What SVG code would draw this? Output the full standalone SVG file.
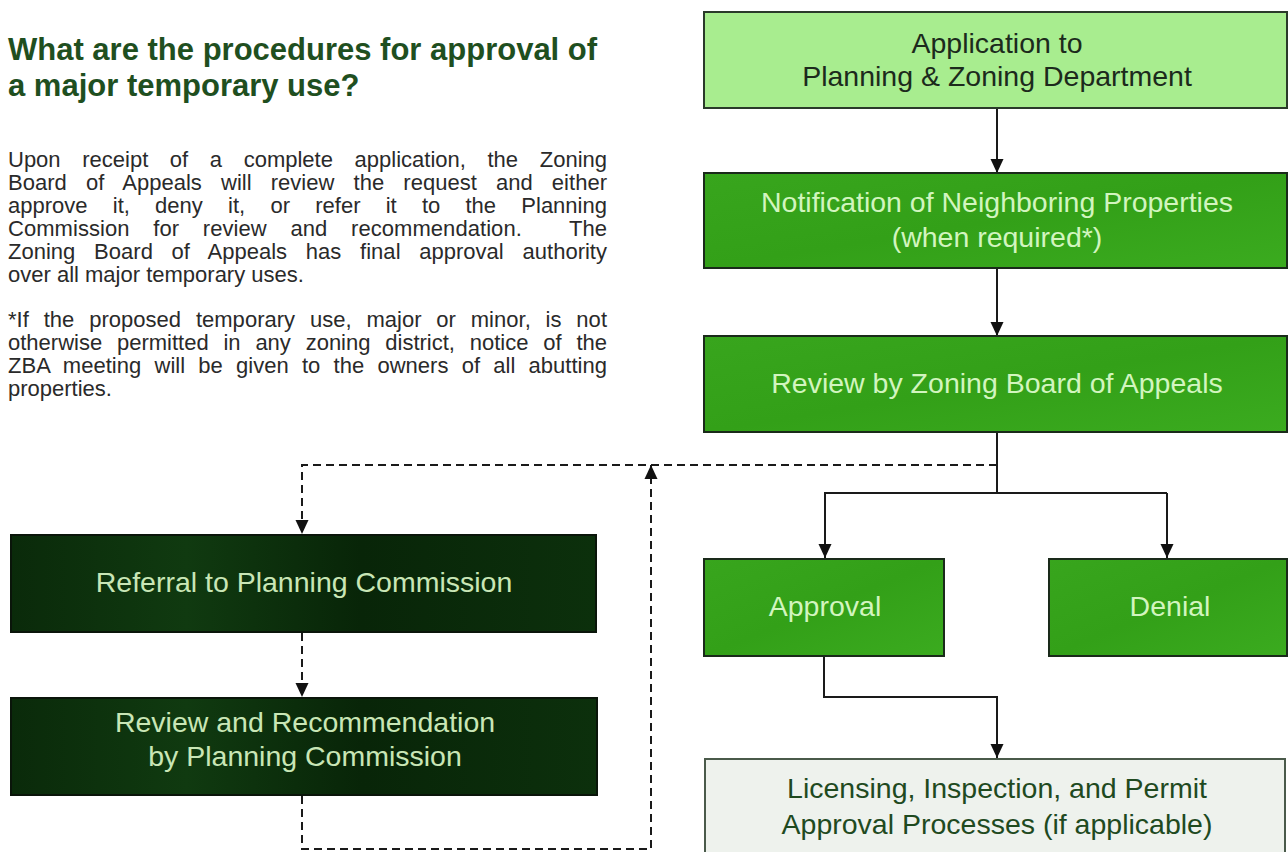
<svg xmlns="http://www.w3.org/2000/svg" width="1288" height="852" viewBox="0 0 1288 852">
<defs>
<style>
.title{font-family:"Liberation Sans",Arial,sans-serif;font-size:31px;font-weight:bold;fill:#1f4f1f;}
.body{font-family:"Liberation Sans",Arial,sans-serif;font-size:22px;fill:#2a2a2a;}
.bx{font-family:"Liberation Sans",Arial,sans-serif;font-size:28.5px;text-anchor:middle;}
.dk{fill:#1c2a1c;}
.lt{fill:#d2f5bf;}
.pl{fill:#c9e6b6;}
.lg{fill:#1f4a1f;}
.edge{fill:none;stroke:#1a1a1a;stroke-width:2;}
.dash{fill:none;stroke:#1a1a1a;stroke-width:2;stroke-dasharray:8 5;}
.boxA{fill:#a8ed8f;stroke:#2a3a2a;stroke-width:2;}
.boxG{fill:url(#gG);stroke:#1a2a1a;stroke-width:2;}
.boxD{fill:url(#gD);stroke:#0a150a;stroke-width:2;}
.boxL{fill:#eef2ed;stroke:#4a5a4a;stroke-width:2;}
</style>
<linearGradient id="gG" x1="0" y1="0" x2="1" y2="1">
<stop offset="0" stop-color="#38a51d"/><stop offset="0.5" stop-color="#33a018"/><stop offset="1" stop-color="#3bab1f"/>
</linearGradient>
<linearGradient id="gD" x1="0" y1="0" x2="1" y2="0">
<stop offset="0" stop-color="#0a2a0a"/><stop offset="0.3" stop-color="#103a10"/><stop offset="0.6" stop-color="#082508"/><stop offset="1" stop-color="#0c300c"/>
</linearGradient>
<marker id="ah" viewBox="0 0 14 14" refX="14" refY="7" markerWidth="14" markerHeight="14" markerUnits="userSpaceOnUse" orient="auto">
<path d="M0,0.5 L14,7 L0,13.5 Z" fill="#111"/>
</marker>
</defs>
<rect width="1288" height="852" fill="#ffffff"/>

<g id="intro">
<text class="title" x="8" y="60">What are the procedures for approval of</text>
<text class="title" x="8" y="96">a major temporary use?</text>
<text class="body" x="8" y="167" word-spacing="15.5" textLength="599" lengthAdjust="spacing">Upon receipt of a complete application, the Zoning</text>
<text class="body" x="8" y="190" word-spacing="13" textLength="599" lengthAdjust="spacing">Board of Appeals will review the request and either</text>
<text class="body" x="8" y="213" word-spacing="19.1" textLength="599" lengthAdjust="spacing">approve it, deny it, or refer it to the Planning</text>
<text class="body" x="8" y="236" word-spacing="17.6" textLength="599" lengthAdjust="spacing" xml:space="preserve">Commission for review and recommendation.  The</text>
<text class="body" x="8" y="259" word-spacing="12.6" textLength="599" lengthAdjust="spacing">Zoning Board of Appeals has final approval authority</text>
<text class="body" x="8" y="282">over all major temporary uses.</text>
<text class="body" x="8" y="327" word-spacing="8.7" textLength="599" lengthAdjust="spacing">*If the proposed temporary use, major or minor, is not</text>
<text class="body" x="8" y="350" word-spacing="8.7" textLength="599" lengthAdjust="spacing">otherwise permitted in any zoning district, notice of the</text>
<text class="body" x="8" y="373" word-spacing="7.1" textLength="599" lengthAdjust="spacing">ZBA meeting will be given to the owners of all abutting</text>
<text class="body" x="8" y="396">properties.</text>
</g>

<g id="connectors">
<path class="edge" d="M997,108 V173" marker-end="url(#ah)"/>
<path class="edge" d="M997,268 V336" marker-end="url(#ah)"/>
<path class="edge" d="M997,432 V493 M824,493 H1167"/>
<path class="edge" d="M825,493 V558" marker-end="url(#ah)"/>
<path class="edge" d="M1167,493 V558" marker-end="url(#ah)"/>
<path class="dash" d="M997,465 H302 V534" marker-end="url(#ah)"/>
<path class="dash" d="M302,633 V697" marker-end="url(#ah)"/>
<path class="dash" d="M302,796 V849 H651 V465" marker-end="url(#ah)"/>
<path class="edge" d="M824,657 V697 H997 V758" marker-end="url(#ah)"/>
</g>

<g id="n-application">
<rect class="boxA" x="704" y="12" width="583" height="96"/>
<text class="bx dk" x="997" y="53">Application to</text>
<text class="bx dk" x="997" y="86">Planning &amp; Zoning Department</text>
</g>
<g id="n-notification">
<rect class="boxG" x="704" y="173" width="583" height="95"/>
<text class="bx lt" x="997" y="212">Notification of Neighboring Properties</text>
<text class="bx lt" x="997" y="247">(when required*)</text>
</g>
<g id="n-zba">
<rect class="boxG" x="704" y="336" width="583" height="96"/>
<text class="bx lt" x="997" y="393">Review by Zoning Board of Appeals</text>
</g>
<g id="n-approval">
<rect class="boxG" x="704" y="559" width="240" height="97"/>
<text class="bx lt" x="825" y="616">Approval</text>
</g>
<g id="n-denial">
<rect class="boxG" x="1049" y="559" width="238" height="97"/>
<text class="bx lt" x="1170" y="616">Denial</text>
</g>
<g id="n-referral">
<rect class="boxD" x="11" y="535" width="585" height="97"/>
<text class="bx pl" x="304" y="592">Referral to Planning Commission</text>
</g>
<g id="n-recommendation">
<rect class="boxD" x="11" y="698" width="586" height="97"/>
<text class="bx pl" x="305" y="732">Review and Recommendation</text>
<text class="bx pl" x="305" y="766">by Planning Commission</text>
</g>
<g id="n-licensing">
<rect class="boxL" x="705" y="759" width="580" height="100"/>
<text class="bx lg" x="997" y="798">Licensing, Inspection, and Permit</text>
<text class="bx lg" x="997" y="834">Approval Processes (if applicable)</text>
</g>
</svg>
